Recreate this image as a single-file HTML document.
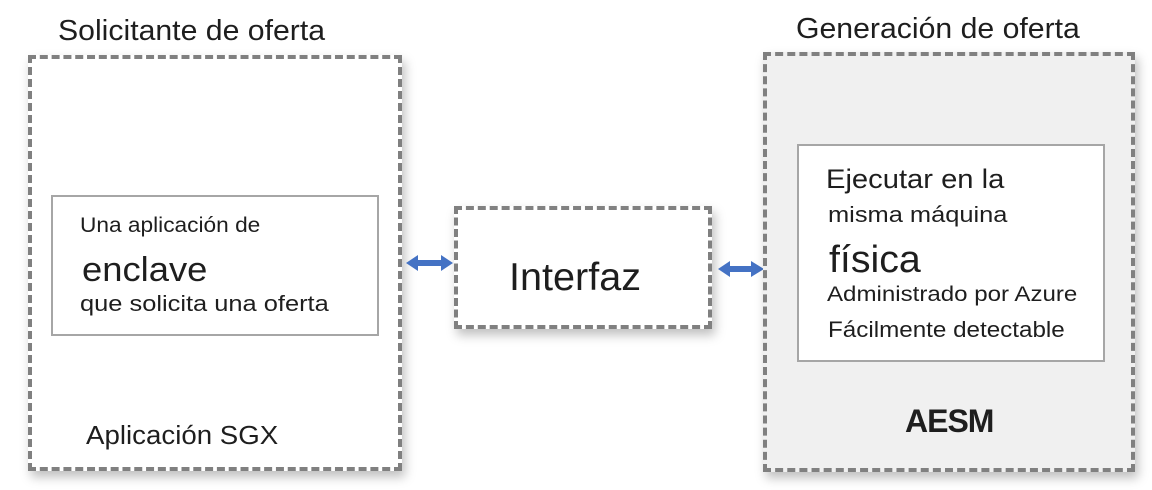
<!DOCTYPE html>
<html><head><meta charset="utf-8"><style>
body{margin:0;width:1152px;height:490px;background:#fff;position:relative;overflow:hidden;font-family:"Liberation Sans",Arial,sans-serif;color:#1e1e1e}
.a{position:absolute}
.dash{border:4px dashed #808080;box-sizing:border-box;box-shadow:3px 6px 10px rgba(0,0,0,.25)}
.inner{border:2px solid #a6a6a6;box-sizing:border-box;background:#fff}
.t{position:absolute;white-space:nowrap;transform-origin:0 50%}
</style></head><body>
<div class="t" style="left:58px;top:15px;font-size:28.5px;transform:scaleX(1.06)">Solicitante de oferta</div>
<div class="a dash" style="left:28px;top:55px;width:374px;height:416px;background:#fff"></div>
<div class="a inner" style="left:51px;top:195px;width:328px;height:141px"></div>
<div class="t" style="left:80px;top:214px;font-size:21px;transform:scaleX(1.08)">Una aplicación de</div>
<div class="t" style="left:82px;top:251px;font-size:34px;transform:scaleX(1.07)">enclave</div>
<div class="t" style="left:80px;top:291px;font-size:22.5px;transform:scaleX(1.13)">que solicita una oferta</div>
<div class="t" style="left:86px;top:422px;font-size:25.5px;transform:scaleX(1.085)">Aplicación SGX</div>

<div class="a dash" style="left:454px;top:206px;width:258px;height:123px;background:#fff"></div>
<div class="t" style="left:509px;top:256px;font-size:39px;transform:scaleX(1.015)">Interfaz</div>

<svg class="a" style="left:400px;top:248px" width="60" height="30"><polygon points="6,15 18,7 18,12 41,12 41,7 53,15 41,23 41,18 18,18 18,23" fill="#4472c4"/></svg>
<svg class="a" style="left:714px;top:254px" width="56" height="30"><polygon points="4,15 16,7 16,12 37,12 37,7 50,15 37,23 37,18 16,18 16,23" fill="#4472c4"/></svg>

<div class="t" style="left:796px;top:13px;font-size:28.5px;transform:scaleX(1.06)">Generación de oferta</div>
<div class="a dash" style="left:763px;top:52px;width:372px;height:420px;background:#f0f0f0"></div>
<div class="a inner" style="left:797px;top:144px;width:308px;height:218px"></div>
<div class="t" style="left:826px;top:164px;font-size:27px;transform:scaleX(1.08)">Ejecutar en la</div>
<div class="t" style="left:828px;top:202px;font-size:22.5px;transform:scaleX(1.13)">misma máquina</div>
<div class="t" style="left:829px;top:239px;font-size:38px;transform:scaleX(1.035)">física</div>
<div class="t" style="left:827px;top:282px;font-size:21.5px;transform:scaleX(1.12)">Administrado por Azure</div>
<div class="t" style="left:828px;top:317px;font-size:22px;transform:scaleX(1.10)">Fácilmente detectable</div>
<div class="t" style="left:905px;top:403px;font-size:32px;font-weight:bold;letter-spacing:-1px">AESM</div>
</body></html>
